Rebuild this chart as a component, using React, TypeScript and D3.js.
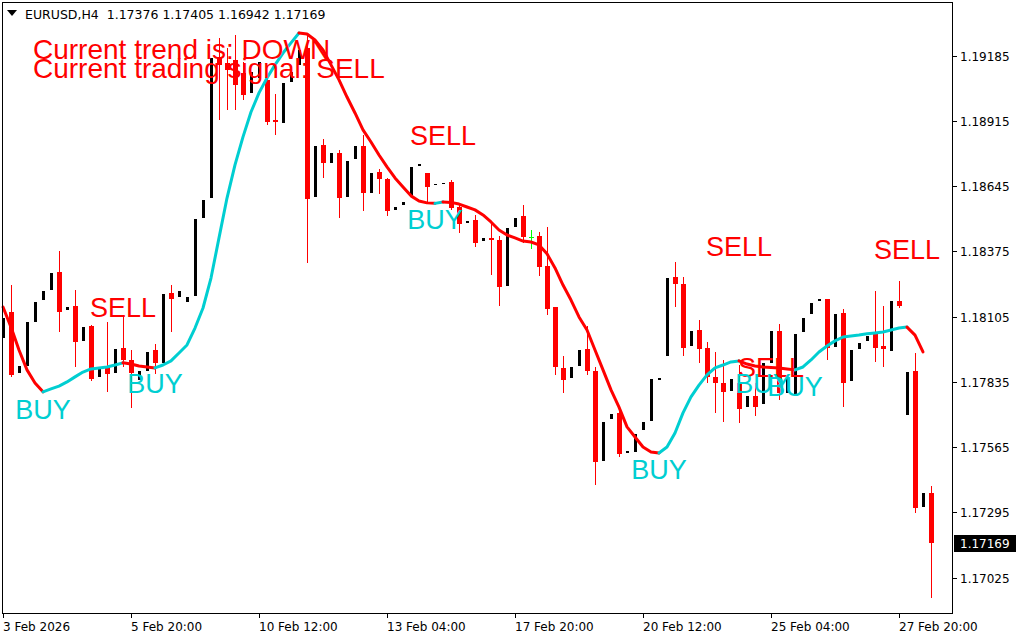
import React from 'react';
import * as d3 from 'd3';

// ---- OHLC data (EURUSD H4), one entry per bar ----
const openP = [
  1.18017, 1.18125, 1.17872, 1.17901, 1.18083, 1.18174, 1.18216, 1.18290, 1.18133, 1.18149,
  1.18005, 1.18067, 1.17856, 1.17897, 1.17872, 1.17976, 1.17926, 1.17843, 1.17880, 1.17967,
  1.17914, 1.18203, 1.18187, 1.18166, 1.18191, 1.18514, 1.18596, 1.19180, 1.19155, 1.19167,
  1.19113, 1.19031, 1.19093, 1.19085, 1.18919, 1.18907, 1.19076, 1.19147, 1.19217, 1.18600,
  1.18816, 1.18741, 1.18782, 1.18600, 1.18758, 1.18811, 1.18617, 1.18704, 1.18675, 1.18547,
  1.18567, 1.18600, 1.18729, 1.18700, 1.18650, 1.18654, 1.18662, 1.18559, 1.18493, 1.18505,
  1.18418, 1.18431, 1.18422, 1.18232, 1.18476, 1.18522, 1.18435, 1.18439, 1.18315, 1.18145,
  1.17893, 1.17851, 1.17901, 1.17971, 1.17880, 1.17508, 1.17682, 1.17707, 1.17541, 1.17545,
  1.17636, 1.17674, 1.17843, 1.17942, 1.18269, 1.18240, 1.17984, 1.18050, 1.17976, 1.17856,
  1.17831, 1.17798, 1.17831, 1.17731, 1.17777, 1.17744, 1.17914, 1.18046, 1.17789, 1.17781,
  1.18042, 1.18116, 1.18170, 1.18178, 1.17980, 1.18120, 1.17839, 1.17971, 1.18005, 1.18042,
  1.17984, 1.17963, 1.18170, 1.17698, 1.17880, 1.17318, 1.17376,
];
const highP = [
  1.18100, 1.18236, 1.17901, 1.18083, 1.18166, 1.18211, 1.18286, 1.18377, 1.18145, 1.18216,
  1.18062, 1.18071, 1.17889, 1.18083, 1.17971, 1.18104, 1.17967, 1.17880, 1.17959, 1.17992,
  1.18199, 1.18236, 1.18211, 1.18187, 1.18509, 1.18588, 1.19176, 1.19258, 1.19217, 1.19271,
  1.19159, 1.19118, 1.19159, 1.19093, 1.19027, 1.19072, 1.19118, 1.19209, 1.19279, 1.18811,
  1.18840, 1.18782, 1.18795, 1.18749, 1.18811, 1.18857, 1.18700, 1.18716, 1.18679, 1.18559,
  1.18580, 1.18725, 1.18737, 1.18700, 1.18654, 1.18658, 1.18671, 1.18567, 1.18501, 1.18526,
  1.18431, 1.18497, 1.18439, 1.18472, 1.18514, 1.18567, 1.18464, 1.18456, 1.18476, 1.18145,
  1.17942, 1.17897, 1.17967, 1.18067, 1.17897, 1.17669, 1.17703, 1.17736, 1.17549, 1.17619,
  1.17669, 1.17847, 1.17851, 1.18265, 1.18331, 1.18269, 1.18046, 1.18091, 1.18000, 1.17959,
  1.17926, 1.17847, 1.17905, 1.17777, 1.17831, 1.17914, 1.18046, 1.18075, 1.17856, 1.18033,
  1.18100, 1.18162, 1.18178, 1.18178, 1.18116, 1.18137, 1.17967, 1.17996, 1.18025, 1.18211,
  1.18149, 1.18170, 1.18253, 1.17876, 1.17955, 1.17376, 1.17405,
];
const lowP = [
  1.18017, 1.17856, 1.17872, 1.17901, 1.18083, 1.18174, 1.18216, 1.18042, 1.18133, 1.17897,
  1.18005, 1.17839, 1.17856, 1.17794, 1.17872, 1.17897, 1.17727, 1.17843, 1.17880, 1.17868,
  1.17914, 1.18042, 1.18187, 1.18166, 1.18191, 1.18514, 1.18596, 1.18919, 1.18960, 1.18960,
  1.19002, 1.19031, 1.19093, 1.18898, 1.18857, 1.18907, 1.19076, 1.19147, 1.18327, 1.18600,
  1.18679, 1.18741, 1.18514, 1.18600, 1.18758, 1.18542, 1.18617, 1.18613, 1.18522, 1.18547,
  1.18567, 1.18600, 1.18729, 1.18580, 1.18650, 1.18654, 1.18547, 1.18451, 1.18493, 1.18394,
  1.18418, 1.18278, 1.18149, 1.18232, 1.18476, 1.18410, 1.18385, 1.18274, 1.18112, 1.17864,
  1.17789, 1.17851, 1.17901, 1.17864, 1.17409, 1.17508, 1.17682, 1.17525, 1.17541, 1.17545,
  1.17636, 1.17674, 1.17843, 1.17942, 1.18145, 1.17942, 1.17984, 1.17914, 1.17831, 1.17707,
  1.17669, 1.17798, 1.17665, 1.17731, 1.17694, 1.17744, 1.17914, 1.17760, 1.17789, 1.17781,
  1.18042, 1.18116, 1.18170, 1.17926, 1.17980, 1.17731, 1.17839, 1.17971, 1.18005, 1.17918,
  1.17897, 1.17963, 1.18141, 1.17698, 1.17293, 1.17318, 1.16942,
];
const closeP = [
  1.18100, 1.17864, 1.17901, 1.18083, 1.18166, 1.18211, 1.18286, 1.18125, 1.18145, 1.18000,
  1.18062, 1.17847, 1.17889, 1.17868, 1.17971, 1.17926, 1.17872, 1.17880, 1.17959, 1.17914,
  1.18199, 1.18178, 1.18211, 1.18187, 1.18509, 1.18588, 1.19176, 1.19147, 1.19126, 1.19064,
  1.19022, 1.19118, 1.19159, 1.18911, 1.18911, 1.19072, 1.19118, 1.19209, 1.18592, 1.18811,
  1.18741, 1.18782, 1.18596, 1.18749, 1.18811, 1.18617, 1.18700, 1.18675, 1.18542, 1.18559,
  1.18580, 1.18725, 1.18737, 1.18642, 1.18654, 1.18658, 1.18555, 1.18489, 1.18501, 1.18410,
  1.18431, 1.18422, 1.18228, 1.18472, 1.18514, 1.18435, 1.18435, 1.18311, 1.18137, 1.17897,
  1.17843, 1.17897, 1.17967, 1.17880, 1.17504, 1.17669, 1.17703, 1.17537, 1.17549, 1.17619,
  1.17669, 1.17847, 1.17851, 1.18265, 1.18240, 1.17976, 1.18046, 1.17971, 1.17856, 1.17831,
  1.17794, 1.17847, 1.17723, 1.17777, 1.17731, 1.17914, 1.18046, 1.17789, 1.17856, 1.18033,
  1.18100, 1.18162, 1.18178, 1.17976, 1.18116, 1.17831, 1.17967, 1.17996, 1.18025, 1.17976,
  1.17971, 1.18170, 1.18149, 1.17876, 1.17314, 1.17376, 1.17169,
];

// ---- trend indicator (smoothed line) ----
const trendLine = [
  1.18145, 1.18062, 1.17967, 1.17885, 1.17831, 1.17794, 1.17806, 1.17818, 1.17835, 1.17856,
  1.17876, 1.17889, 1.17893, 1.17897, 1.17905, 1.17914, 1.17909, 1.17901, 1.17897, 1.17893,
  1.17905, 1.17922, 1.17955, 1.17988, 1.18058, 1.18141, 1.18265, 1.18431, 1.18596, 1.18733,
  1.18849, 1.18952, 1.19031, 1.19093, 1.19147, 1.19196, 1.19238, 1.19279, 1.19275, 1.19250,
  1.19209, 1.19147, 1.19085, 1.19014, 1.18948, 1.18878, 1.18828, 1.18774, 1.18725, 1.18679,
  1.18642, 1.18605, 1.18584, 1.18576, 1.18574, 1.18580, 1.18578, 1.18571, 1.18559, 1.18547,
  1.18526, 1.18497, 1.18464, 1.18443, 1.18431, 1.18418, 1.18414, 1.18402, 1.18365, 1.18307,
  1.18236, 1.18174, 1.18104, 1.18050, 1.17967, 1.17885, 1.17802, 1.17731, 1.17649, 1.17607,
  1.17566, 1.17545, 1.17541, 1.17566, 1.17624, 1.17707, 1.17773, 1.17822, 1.17864, 1.17893,
  1.17905, 1.17918, 1.17922, 1.17909, 1.17901, 1.17897, 1.17895, 1.17893, 1.17889, 1.17885,
  1.17897, 1.17926, 1.17959, 1.17984, 1.18005, 1.18021, 1.18025, 1.18029, 1.18034, 1.18038,
  1.18042, 1.18050, 1.18058, 1.18062, 1.18029, 1.17959,
];

// ---- signal labels (bar index, anchor price) ----
const sellBars = [15, 55, 92, 96, 113];
const sellPrices = [1.18104, 1.18816, 1.18356, 1.17856, 1.18344];
const buyBars = [5, 19, 54, 82, 95, 99];
const buyPrices = [1.17682, 1.17789, 1.18468, 1.17434, 1.17789, 1.17777];

// ---- axes ----
const priceTicks = [1.19185, 1.18915, 1.18645, 1.18375, 1.18105, 1.17835, 1.17565, 1.17295, 1.17025];
const timeTickBars = [0, 16, 32, 48, 64, 80, 96, 112];
const timeTickLabels = [
  '3 Feb 2026', '5 Feb 20:00', '10 Feb 12:00', '13 Feb 04:00',
  '17 Feb 20:00', '20 Feb 12:00', '25 Feb 04:00', '27 Feb 20:00',
];
const symbolTitle = 'EURUSD,H4  1.17376 1.17405 1.16942 1.17169';
const lastPrice = 1.17169;
const trendText = 'Current trend is: DOWN';
const signalText = 'Current trading signal: SELL';

const RED = '#FF0000';
const CYAN = '#00CED1';
const AXIS_FONT = '"DejaVu Sans", Tahoma, sans-serif';
const LABEL_FONT = '"Liberation Sans", Arial, sans-serif';

export default function App() {
  const W = 1024;
  const H = 640;
  const nBars = openP.length;
  const x = d3.scaleLinear().domain([0, nBars - 1]).range([3, 931]);
  const y = d3.scaleLinear().domain([1.17025, 1.19185]).range([577.7, 55.7]);

  // candles
  const candles = openP.map((o, i) => {
    const c = closeP[i];
    const hi = highP[i];
    const lo = lowP[i];
    const cx = Math.round(x(i));
    const wTop = Math.round(y(hi));
    const wBot = Math.round(y(lo));
    const bTop = Math.round(y(Math.max(o, c)));
    const bBot = Math.round(y(Math.min(o, c)));
    if (c === o) {
      return (
        <g key={i} fill="#00FF00">
          <rect x={cx} y={wTop} width={1} height={Math.max(1, wBot - wTop)} />
          <rect x={cx - 2} y={bTop} width={5} height={1} />
        </g>
      );
    }
    const bull = c > o;
    const col = bull ? '#000000' : RED;
    const bw = bull ? 3 : 5;
    return (
      <g key={i} fill={col}>
        <rect x={cx} y={wTop} width={1} height={Math.max(1, wBot - wTop)} />
        <rect x={cx - Math.floor(bw / 2)} y={bTop} width={bw} height={Math.max(1, bBot - bTop)} />
      </g>
    );
  });

  // indicator segments coloured by direction
  const runs: { color: string; pts: [number, number][] }[] = [];
  let prevColor = RED;
  for (let i = 0; i < trendLine.length - 1; i++) {
    const a = trendLine[i];
    const b = trendLine[i + 1];
    const color = b > a ? CYAN : b < a ? RED : prevColor;
    prevColor = color;
    const p0: [number, number] = [x(i), y(a)];
    const p1: [number, number] = [x(i + 1), y(b)];
    const last = runs[runs.length - 1];
    if (last && last.color === color) last.pts.push(p1);
    else runs.push({ color, pts: [p0, p1] });
  }
  const lineGen = d3.line<[number, number]>().x((d) => d[0]).y((d) => d[1]);

  const frameRight = 952;
  const frameBottom = 613;

  return (
    <svg
      width={W}
      height={H}
      style={{ position: 'absolute', left: 0, top: 0, background: '#fff' }}
    >
      <rect x={0} y={0} width={W} height={H} fill="#fff" />
      <g shapeRendering="crispEdges">{candles}</g>
      <g fill="none" strokeWidth={3} strokeLinecap="round" strokeLinejoin="round">
        {runs.map((r, k) => (
          <path key={k} d={lineGen(r.pts) || ''} stroke={r.color} />
        ))}
      </g>

      {/* signal labels */}
      <g fontFamily={LABEL_FONT} fontSize={27} textAnchor="middle">
        {sellBars.map((b, k) => (
          <text key={'s' + k} x={x(b)} y={y(sellPrices[k])} fill={RED}>SELL</text>
        ))}
        {buyBars.map((b, k) => (
          <text key={'b' + k} x={x(b)} y={y(buyPrices[k])} fill={CYAN}>BUY</text>
        ))}
      </g>

      <g fontFamily={LABEL_FONT} fontSize={28} fill={RED}>
        <text x={33} y={59}>{trendText}</text>
        <text x={33} y={78}>{signalText}</text>
      </g>

      {/* frame */}
      <rect
        x={2.5}
        y={2.5}
        width={frameRight - 2.5}
        height={frameBottom - 2.5}
        fill="none"
        stroke="#000"
        strokeWidth={1}
        shapeRendering="crispEdges"
      />

      {/* title */}
      <path d="M7,10 L17,10 L12,16 Z" fill="#000" />
      <text x={25} y={19} fontFamily={AXIS_FONT} fontSize={12.5} fill="#000" style={{ whiteSpace: 'pre' }}>
        {symbolTitle}
      </text>

      {/* price axis */}
      <g fontFamily={AXIS_FONT} fontSize={12} fill="#000">
        {priceTicks.map((p) => {
          const yy = Math.round(y(p)) + 0.5;
          return (
            <g key={p}>
              <line x1={frameRight} x2={frameRight + 5} y1={yy} y2={yy} stroke="#000" shapeRendering="crispEdges" />
              <text x={960} y={yy} dy="0.36em">{p.toFixed(5)}</text>
            </g>
          );
        })}
        <rect x={954} y={Math.round(y(lastPrice)) - 8} width={62} height={17} fill="#000" />
        <text x={960} y={Math.round(y(lastPrice)) + 0.5} dy="0.36em" fill="#fff">{lastPrice.toFixed(5)}</text>
      </g>

      {/* time axis */}
      <g fontFamily={AXIS_FONT} fontSize={12} fill="#000">
        {timeTickBars.map((b, k) => {
          const xx = Math.round(x(b)) + 0.5;
          return (
            <g key={b}>
              <line x1={xx} x2={xx} y1={frameBottom} y2={frameBottom + 5} stroke="#000" shapeRendering="crispEdges" />
              <text x={Math.round(x(b))} y={631}>{timeTickLabels[k]}</text>
            </g>
          );
        })}
      </g>
    </svg>
  );
}
